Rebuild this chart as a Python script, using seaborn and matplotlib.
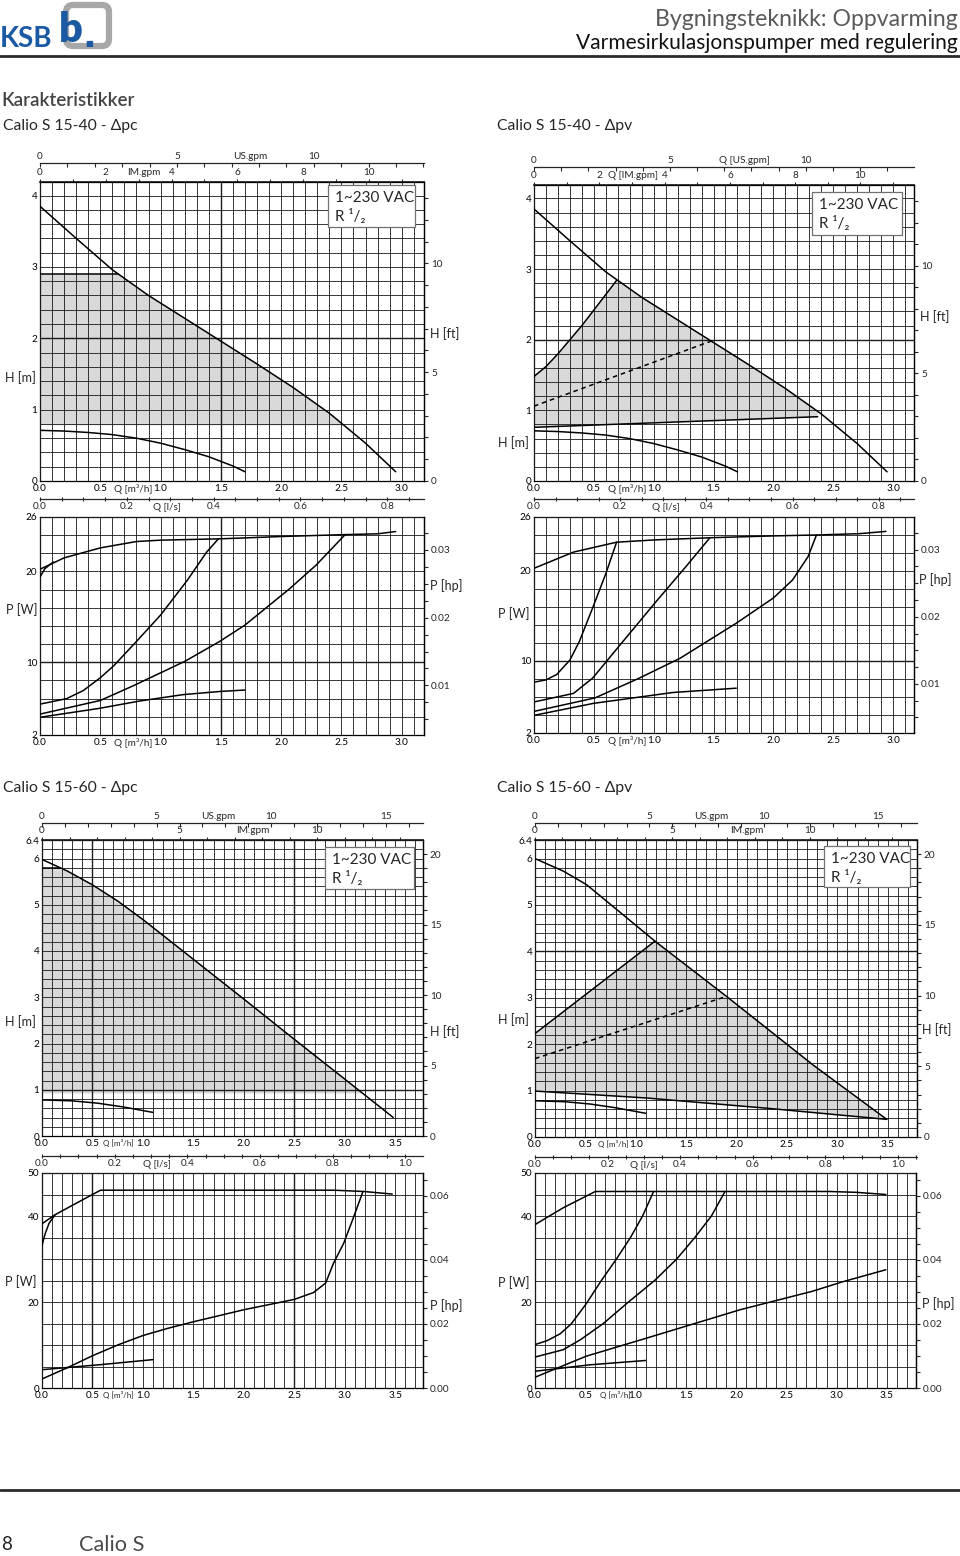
import numpy as np
import matplotlib
matplotlib.use("Agg")
import matplotlib.pyplot as plt
import seaborn as sns
from matplotlib.ticker import MultipleLocator
from matplotlib.patches import Rectangle, FancyBboxPatch

sns.set_theme(style="white")
plt.rcParams["font.family"] = ["Lato", "DejaVu Sans"]

# ------------------------------------------------------------------ data
# Calio S 15-40 : H-Q  (Q in m3/h, H in m)
q40_max = [0.0, 0.3, 0.6, 0.9, 1.2, 1.5, 1.8, 2.1, 2.4, 2.7, 2.95]
h40_max = [3.85, 3.40, 2.96, 2.60, 2.28, 1.96, 1.64, 1.31, 0.95, 0.53, 0.13]
q40_min = [0.0, 0.2, 0.4, 0.6, 0.8, 1.0, 1.2, 1.4, 1.6, 1.7]
h40_min = [0.71, 0.70, 0.68, 0.65, 0.60, 0.53, 0.44, 0.34, 0.21, 0.13]
# dp-c
pc40_line_q = [0.0, 0.65]
pc40_line_h = [2.90, 2.90]
pc40_area_q = [0.0, 0.65, 0.9, 1.2, 1.5, 1.8, 2.1, 2.4, 2.52, 0.0]
pc40_area_h = [2.90, 2.90, 2.60, 2.28, 1.96, 1.64, 1.31, 0.95, 0.78, 0.78]
# dp-v
pv40_left_q = [0.0, 0.1, 0.2, 0.3, 0.4, 0.5, 0.6, 0.69]
pv40_left_h = [1.48, 1.62, 1.80, 2.00, 2.20, 2.42, 2.64, 2.84]
pv40_bot_q = [0.0, 2.37]
pv40_bot_h = [0.76, 0.91]
pv40_dash_q = [0.0, 1.48]
pv40_dash_h = [1.06, 1.98]
pv40_area_q = [0.0, 0.1, 0.2, 0.3, 0.4, 0.5, 0.6, 0.69, 0.9, 1.2, 1.5, 1.8, 2.1, 2.37, 2.37, 0.0]
pv40_area_h = [1.48, 1.62, 1.80, 2.00, 2.20, 2.42, 2.64, 2.84, 2.60, 2.28, 1.96, 1.64, 1.31, 0.99, 0.91, 0.76]

# Calio S 15-40 : P-Q (P in W)
pc40_p_max_q = [0.0, 0.2, 0.5, 0.8, 1.0, 1.5, 2.0, 2.5, 2.8, 2.95]
pc40_p_max = [20.25, 21.5, 22.6, 23.3, 23.45, 23.6, 23.85, 24.05, 24.15, 24.4]
pc40_p_start_q = [0.0, 0.04, 0.11]
pc40_p_start = [19.4, 20.3, 21.05]
pc40_p_a_q = [0.0, 0.22, 0.36, 0.5, 0.61, 0.80, 1.0, 1.22, 1.38, 1.48]
pc40_p_a = [5.4, 6.0, 6.9, 8.3, 9.6, 12.3, 15.2, 19.0, 22.1, 23.6]
pc40_p_b_q = [0.0, 0.5, 0.77, 1.2, 1.49, 1.70, 2.07, 2.29, 2.53]
pc40_p_b = [4.3, 5.8, 7.4, 10.1, 12.3, 14.1, 18.1, 20.7, 24.05]
pc40_p_min_q = [0.0, 0.5, 0.83, 1.19, 1.50, 1.70]
pc40_p_min = [3.95, 4.95, 5.75, 6.45, 6.8, 6.95]

pv40_p_max_q = [0.0, 0.33, 0.69, 1.0, 1.48, 2.0, 2.36, 2.72, 2.94]
pv40_p_max = [20.3, 22.1, 23.2, 23.45, 23.7, 23.9, 24.0, 24.15, 24.4]
pv40_p_a_q = [0.0, 0.1, 0.19, 0.30, 0.38, 0.49, 0.60, 0.69]
pv40_p_a = [7.65, 7.9, 8.5, 10.1, 12.2, 15.9, 19.7, 23.2]
pv40_p_b_q = [0.0, 0.33, 0.49, 0.72, 1.02, 1.27, 1.47]
pv40_p_b = [5.45, 6.4, 8.1, 11.8, 16.6, 20.5, 23.7]
pv40_p_c_q = [0.0, 0.51, 0.88, 1.22, 1.69, 2.0, 2.16, 2.29, 2.36]
pv40_p_c = [4.4, 5.9, 8.1, 10.3, 14.2, 17.0, 19.0, 21.6, 24.0]
pv40_p_min_q = [0.0, 0.5, 1.16, 1.69]
pv40_p_min = [3.96, 5.3, 6.5, 6.98]

# Calio S 15-60 : H-Q
pc60_max_q = [0.0, 0.25, 0.5, 0.75, 1.0, 1.5, 2.0, 2.5, 3.0, 3.48]
pc60_max_h = [5.98, 5.73, 5.43, 5.08, 4.68, 3.82, 2.96, 2.09, 1.23, 0.40]
pv60_max_q = [0.0, 0.28, 0.51, 0.84, 1.19, 1.9, 2.76, 3.49]
pv60_max_h = [6.0, 5.73, 5.44, 4.85, 4.22, 3.03, 1.55, 0.38]
q60_min = [0.0, 0.3, 0.55, 0.8, 1.1]
h60_min = [0.78, 0.76, 0.71, 0.63, 0.51]
pc60_line_q = [0.0, 0.18]
pc60_line_h = [5.80, 5.80]
pc60_area_q = [0.0, 0.18, 0.25, 0.5, 0.75, 1.0, 1.5, 2.0, 2.5, 3.0, 3.18, 0.0]
pc60_area_h = [5.80, 5.80, 5.73, 5.43, 5.08, 4.68, 3.82, 2.96, 2.09, 1.23, 0.92, 0.92]
pv60_left_q = [0.0, 1.19]
pv60_left_h = [2.23, 4.22]
pv60_bot_q = [0.0, 1.11, 2.3, 3.49]
pv60_bot_h = [0.99, 0.84, 0.62, 0.38]
pv60_dash_q = [0.0, 1.90]
pv60_dash_h = [1.69, 3.03]
pv60_area_q = [0.0, 1.19, 1.9, 2.76, 3.49, 2.3, 1.11, 0.0]
pv60_area_h = [2.23, 4.22, 3.03, 1.55, 0.38, 0.62, 0.84, 0.99]

# Calio S 15-60 : P-Q
pc60_p_max_q = [0.0, 0.13, 0.31, 0.58, 1.0, 2.0, 2.89, 3.19, 3.47]
pc60_p_max = [38.2, 40.3, 42.6, 46.0, 46.0, 46.0, 46.0, 45.7, 45.1]
pc60_p_start_q = [0.0, 0.03, 0.07, 0.13]
pc60_p_start = [33.1, 35.8, 38.3, 40.3]
pc60_p_a_q = [0.0, 0.25, 0.5, 0.75, 1.0, 1.25, 1.5, 2.0, 2.5, 2.69, 2.81, 2.89, 2.99, 3.09, 3.18]
pc60_p_a = [2.1, 4.7, 7.5, 10.0, 12.2, 13.9, 15.4, 18.2, 20.6, 22.2, 24.4, 29.1, 33.7, 39.9, 45.7]
pc60_p_min_q = [0.0, 0.58, 1.10]
pc60_p_min = [4.26, 5.43, 6.6]

pv60_p_max_q = [0.0, 0.28, 0.60, 1.0, 2.0, 2.93, 3.20, 3.49]
pv60_p_max = [38.0, 41.9, 45.7, 45.7, 45.7, 45.7, 45.5, 45.0]
pv60_p_a_q = [0.0, 0.12, 0.25, 0.36, 0.51, 0.66, 0.81, 0.95, 1.07, 1.18]
pv60_p_a = [10.1, 11.0, 12.6, 14.9, 19.6, 25.0, 30.0, 35.0, 40.0, 45.7]
pv60_p_b_q = [0.0, 0.28, 0.45, 0.68, 0.93, 1.19, 1.41, 1.59, 1.755, 1.89]
pv60_p_b = [7.2, 8.9, 11.2, 15.0, 20.0, 25.0, 30.0, 35.0, 40.0, 45.7]
pv60_p_c_q = [0.0, 0.51, 1.11, 2.04, 2.76, 3.06, 3.49]
pv60_p_c = [2.5, 7.4, 11.6, 18.2, 22.5, 24.7, 27.5]
pv60_p_min_q = [0.0, 0.55, 1.10]
pv60_p_min = [3.9, 5.4, 6.4]

# tick values / labels
q40_ticks = [0.0, 0.5, 1.0, 1.5, 2.0, 2.5, 3.0]
q60_ticks = [0.0, 0.5, 1.0, 1.5, 2.0, 2.5, 3.0, 3.5]
h40_ticks = [0, 1, 2, 3, 4]
h60_ticks = [0, 1, 2, 3, 4, 5, 6, 6.4]
ft40_ticks = [0, 5, 10]
ft60_ticks = [0, 5, 10, 15, 20]
us40_ticks = [0, 5, 10]
us60_ticks = [0, 5, 10, 15]
im40_ticks = [0, 2, 4, 6, 8, 10]
im60_ticks = [0, 5, 10]
ls40_ticks = [0.0, 0.2, 0.4, 0.6, 0.8]
ls60_ticks = [0.0, 0.2, 0.4, 0.6, 0.8, 1.0]
p40_ticks = [2, 10, 20, 26]
p60_ticks = [0, 20, 40, 50]
hp40_ticks = [0.01, 0.02, 0.03]
hp60_ticks = [0.00, 0.02, 0.04, 0.06]

# unit conversions
US = 0.2271247
IM = 0.2727654
LS = 3.6
FT = 0.3048
HPW = 745.7

# ------------------------------------------------------------------ layout
W, H = 960, 1556
fig = plt.figure(figsize=(W / 100, H / 100), dpi=100)
fig.patch.set_facecolor("white")

deco = fig.add_axes([0, 0, 1, 1])
deco.set_xlim(0, W)
deco.set_ylim(H, 0)
deco.axis("off")
deco.set_zorder(10)

TFS = 7.2
LFS = 9
GRID = "#1c1c1c"
SHADE = "#d9d9d9"


def rect(l, t, r, b):
    return [l / W, 1 - b / H, (r - l) / W, (b - t) / H]


def T(x, y, s, fs, ha="left", va="center", **kw):
    deco.text(x, y, s, fontsize=fs, ha=ha, va=va, **kw)


def curve(ax, q, v, ls="-", lw=1.1):
    sns.lineplot(x=q, y=v, ax=ax, color="black", lw=lw, linestyle=ls,
                 sort=False, estimator=None, zorder=4)


def base(ax, xmax, ylo, yhi, ystep, bold_v, bold_h):
    ax.set_facecolor("white")
    ax.set_xlim(0, xmax)
    ax.set_ylim(ylo, yhi)
    ax.xaxis.set_minor_locator(MultipleLocator(0.1))
    ax.yaxis.set_minor_locator(MultipleLocator(ystep))
    ax.grid(True, which="both", color=GRID, lw=0.62)
    ax.set_axisbelow(False)
    for v in bold_v:
        ax.axvline(v, color=GRID, lw=1.0, zorder=2.6)
    for h in bold_h:
        ax.axhline(h, color=GRID, lw=1.0, zorder=2.6)
    for s in ax.spines.values():
        s.set_visible(True)
        s.set_color("black")
        s.set_linewidth(0.9)
    ax.tick_params(axis="both", which="both", labelsize=TFS, length=0,
                   pad=2, colors="black", top=False, right=False)
    ax.set_xlabel("")
    ax.set_ylabel("")


def qlabel(ax, q, s, fs, yfrac=0.0, off=-2.0):
    ax.annotate(s, xy=(q, yfrac), xycoords=("data", "axes fraction"),
                xytext=(0, off), textcoords="offset points",
                ha="center", va="top", fontsize=fs)


def h_axes(px, xmax, ymax, yt, ft_t, xt, us_t, im_t, ls_t, off_us, off_ls,
           pos_us, pos_im, pos_q, pos_ls, txt_us, txt_im, qfs, bold_v, bold_h):
    l, t, r, b = px
    hp = b - t
    ax = fig.add_axes(rect(l, t, r, b))
    base(ax, xmax, 0, ymax, 0.2, bold_v, bold_h)
    ax.set_yticks(yt, labels=[f"{v:g}" for v in yt])
    ax.set_xticks(xt, labels=[f"{v:.1f}" for v in xt])
    # right: feet
    ft = ax.secondary_yaxis("right", functions=(lambda h: h / FT, lambda f: f * FT))
    ft.set_yticks(ft_t, labels=[str(v) for v in ft_t])
    ft.yaxis.set_minor_locator(MultipleLocator(1))
    ft.tick_params(which="both", length=3, width=0.8, direction="out",
                   labelsize=TFS, pad=2)
    ft.spines["right"].set_linewidth(0.9)
    # top: US gpm (offset) and IM gpm
    us = ax.secondary_xaxis(1 + off_us / hp, functions=(lambda q: q / US, lambda g: g * US))
    us.set_xticks(us_t, labels=[str(v) for v in us_t])
    us.xaxis.set_minor_locator(MultipleLocator(1))
    us.tick_params(which="both", length=3, width=0.8, direction="in",
                   labelsize=TFS, pad=1.5)
    us.spines["top"].set_linewidth(0.9)
    im = ax.secondary_xaxis("top", functions=(lambda q: q / IM, lambda g: g * IM))
    im.set_xticks(im_t, labels=[str(v) for v in im_t])
    im.xaxis.set_minor_locator(MultipleLocator(1))
    im.tick_params(which="both", length=2.5, width=0.8, direction="out",
                   labelsize=TFS, pad=1.0)
    ax.annotate(txt_us, xy=(pos_us, 1 + off_us / hp), xycoords=("data", "axes fraction"),
                xytext=(0, 1.5), textcoords="offset points", ha="center", va="bottom",
                fontsize=TFS)
    ax.annotate(txt_im, xy=(pos_im, 1.0), xycoords=("data", "axes fraction"),
                xytext=(0, 3.5), textcoords="offset points", ha="center", va="bottom",
                fontsize=TFS)
    # bottom: m3/h label, l/s axis
    qlabel(ax, pos_q, "Q [m³/h]", qfs)
    ls = ax.secondary_xaxis(-off_ls / hp, functions=(lambda q: q / LS, lambda s: s * LS))
    ls.set_xticks(ls_t, labels=[f"{v:.1f}" for v in ls_t])
    ls.xaxis.set_minor_locator(MultipleLocator(0.05))
    ls.tick_params(which="both", length=3, width=0.8, direction="inout",
                   labelsize=TFS, pad=0.5)
    ls.spines["bottom"].set_linewidth(0.9)
    ax.annotate("Q [l/s]", xy=(pos_ls, -off_ls / hp), xycoords=("data", "axes fraction"),
                xytext=(0, -2.6), textcoords="offset points", ha="center", va="top",
                fontsize=TFS)
    return ax


def p_axes(px, xmax, ylo, yhi, ystep, yt, hp_t, hp_step, hp_fmt, xt, pos_q, qfs,
           bold_v, bold_h):
    l, t, r, b = px
    ax = fig.add_axes(rect(l, t, r, b))
    base(ax, xmax, ylo, yhi, ystep, bold_v, bold_h)
    ax.set_yticks(yt, labels=[f"{v:g}" for v in yt])
    ax.set_xticks(xt, labels=[f"{v:.1f}" for v in xt])
    hp = ax.secondary_yaxis("right", functions=(lambda p: p / HPW, lambda h: h * HPW))
    hp.set_yticks(hp_t, labels=[hp_fmt.format(v) for v in hp_t])
    hp.yaxis.set_minor_locator(MultipleLocator(hp_step))
    hp.tick_params(which="both", length=3, width=0.8, direction="out",
                   labelsize=TFS, pad=2)
    hp.spines["right"].set_linewidth(0.9)
    qlabel(ax, pos_q, "Q [m³/h]", qfs)
    return ax


def box(l, t, r, b):
    deco.add_patch(Rectangle((l, t), r - l, b - t, fc="white", ec="#707070", lw=0.9, zorder=10))
    T(l + 7, t + 12.5, "1~230 VAC", 11, zorder=11)
    T(l + 7, t + 31, "R ¹/₂", 11, zorder=11)


# ------------------------------------------------------------------ panels
# A: Calio S 15-40 dp-c
axA = h_axes((40, 182, 424, 481), 3.185, 4.19, h40_ticks, ft40_ticks, q40_ticks,
             us40_ticks, im40_ticks, ls40_ticks, 19, 18, 1.74, 0.86, 0.77, 1.05,
             "US.gpm", "IM.gpm", TFS, [1.5], [2.0])
axA.fill(pc40_area_q, pc40_area_h, color=SHADE, lw=0, zorder=1)
curve(axA, q40_max, h40_max)
curve(axA, q40_min, h40_min)
curve(axA, pc40_line_q, pc40_line_h)

axAp = p_axes((40, 517, 424, 735), 3.185, 2, 26, 2, p40_ticks, hp40_ticks, 0.0025,
              "{:.2f}", q40_ticks, 0.77, TFS, [1.5], [10])
for q, p in [(pc40_p_max_q, pc40_p_max), (pc40_p_start_q, pc40_p_start),
             (pc40_p_a_q, pc40_p_a), (pc40_p_b_q, pc40_p_b), (pc40_p_min_q, pc40_p_min)]:
    curve(axAp, q, p)

# B: Calio S 15-40 dp-v
axB = h_axes((534, 185, 914, 481), 3.175, 4.19, h40_ticks, ft40_ticks, q40_ticks,
             us40_ticks, im40_ticks, ls40_ticks, 18, 18, 1.76, 0.83, 0.78, 1.10,
             "Q [US.gpm]", "Q [IM.gpm]", TFS, [], [2.0])
axB.fill(pv40_area_q, pv40_area_h, color=SHADE, lw=0, zorder=1)
curve(axB, q40_max, h40_max)
curve(axB, q40_min, h40_min)
curve(axB, pv40_left_q, pv40_left_h)
curve(axB, pv40_bot_q, pv40_bot_h)
curve(axB, pv40_dash_q, pv40_dash_h, ls=(0, (3, 2.5)))

axBp = p_axes((534, 517, 914, 733), 3.175, 2, 26, 2, p40_ticks, hp40_ticks, 0.0025,
              "{:.2f}", q40_ticks, 0.78, TFS, [], [10])
for q, p in [(pv40_p_max_q, pv40_p_max), (pv40_p_a_q, pv40_p_a),
             (pv40_p_b_q, pv40_p_b), (pv40_p_c_q, pv40_p_c), (pv40_p_min_q, pv40_p_min)]:
    curve(axBp, q, p)

# C: Calio S 15-60 dp-c
axC = h_axes((42, 840, 423, 1136), 3.775, 6.4, h60_ticks, ft60_ticks, q60_ticks,
             us60_ticks, im60_ticks, ls60_ticks, 17, 20, 1.75, 2.09, 0.76, 1.14,
             "US.gpm", "IM.gpm", 5.8, [0.5, 2.5], [1.0])
axC.fill(pc60_area_q, pc60_area_h, color=SHADE, lw=0, zorder=1)
curve(axC, pc60_max_q, pc60_max_h)
curve(axC, q60_min, h60_min)
curve(axC, pc60_line_q, pc60_line_h)

axCp = p_axes((42, 1173, 423, 1388), 3.775, 0, 50, 5, p60_ticks, hp60_ticks, 0.005,
              "{:.2f}", q60_ticks, 0.76, 5.8, [0.5, 2.5], [])
for q, p in [(pc60_p_max_q, pc60_p_max), (pc60_p_start_q, pc60_p_start),
             (pc60_p_a_q, pc60_p_a), (pc60_p_min_q, pc60_p_min)]:
    curve(axCp, q, p)

# D: Calio S 15-60 dp-v
axD = h_axes((535, 840, 917, 1137), 3.79, 6.4, h60_ticks, ft60_ticks, q60_ticks,
             us60_ticks, im60_ticks, ls60_ticks, 17, 20, 1.75, 2.10, 0.78, 1.08,
             "US.gpm", "IM.gpm", 5.8, [], [4.0])
axD.fill(pv60_area_q, pv60_area_h, color=SHADE, lw=0, zorder=1)
curve(axD, pv60_max_q, pv60_max_h)
curve(axD, q60_min, h60_min)
curve(axD, pv60_left_q, pv60_left_h)
curve(axD, pv60_bot_q, pv60_bot_h)
curve(axD, pv60_dash_q, pv60_dash_h, ls=(0, (3, 2.5)))

axDp = p_axes((535, 1173, 916, 1388), 3.79, 0, 50, 5, p60_ticks, hp60_ticks, 0.005,
              "{:.2f}", q60_ticks, 0.80, 5.8, [], [])
for q, p in [(pv60_p_max_q, pv60_p_max), (pv60_p_a_q, pv60_p_a),
             (pv60_p_b_q, pv60_p_b), (pv60_p_c_q, pv60_p_c), (pv60_p_min_q, pv60_p_min)]:
    curve(axDp, q, p)

# ------------------------------------------------------------------ texts
box(328, 185, 415, 227)
box(812, 192, 902, 235)
box(325, 847, 414, 889)
box(824, 846, 910, 887)

for x, y, s in [(5, 378, "H [m]"), (430, 334, "H [ft]"), (6, 610, "P [W]"), (430, 586, "P [hp]"),
                (498, 443, "H [m]"), (920, 317, "H [ft]"), (498, 614, "P [W]"), (919, 580, "P [hp]"),
                (5, 1022, "H [m]"), (430, 1032, "H [ft]"), (5, 1282, "P [W]"), (430, 1306, "P [hp]"),
                (498, 1020, "H [m]"), (922, 1030, "H [ft]"), (498, 1283, "P [W]"), (922, 1304, "P [hp]")]:
    T(x, y, s, LFS)

T(3, 126, "Calio S 15-40 - Δpc", 11.3)
T(497, 126, "Calio S 15-40 - Δpv", 11.3)
T(3, 788, "Calio S 15-60 - Δpc", 11.3)
T(497, 788, "Calio S 15-60 - Δpv", 11.3)
T(1, 100, "Karakteristikker", 13.5, color="#444444", fontweight="semibold")

# header
T(958, 19, "Bygningsteknikk: Oppvarming", 16.6, ha="right", color="#5a5a5a")
T(958, 43, "Varmesirkulasjonspumper med regulering", 15.1, ha="right", color="#111111")
deco.plot([0, 960], [55.5, 55.5], color="#2a2a2a", lw=2.0)
T(0, 39, "KSB", 20, fontweight="bold", color="#1b5aa3")
deco.add_patch(FancyBboxPatch((66, 5), 43, 41, boxstyle="round,pad=0,rounding_size=7",
                              fc="none", ec="#a8a8a8", lw=4.5))
T(59, 30, "b", 30, fontweight="heavy", color="#1b5aa3")
T(85, 43, "■", 6, color="#1b5aa3")

# footer
deco.plot([0, 960], [1490, 1490], color="#2a2a2a", lw=2.0)
T(1, 1545, "8", 13.5, color="#222222")
T(79, 1545, "Calio S", 15.7, color="#4a4a4a")

fig.savefig("out.png", dpi=100)
